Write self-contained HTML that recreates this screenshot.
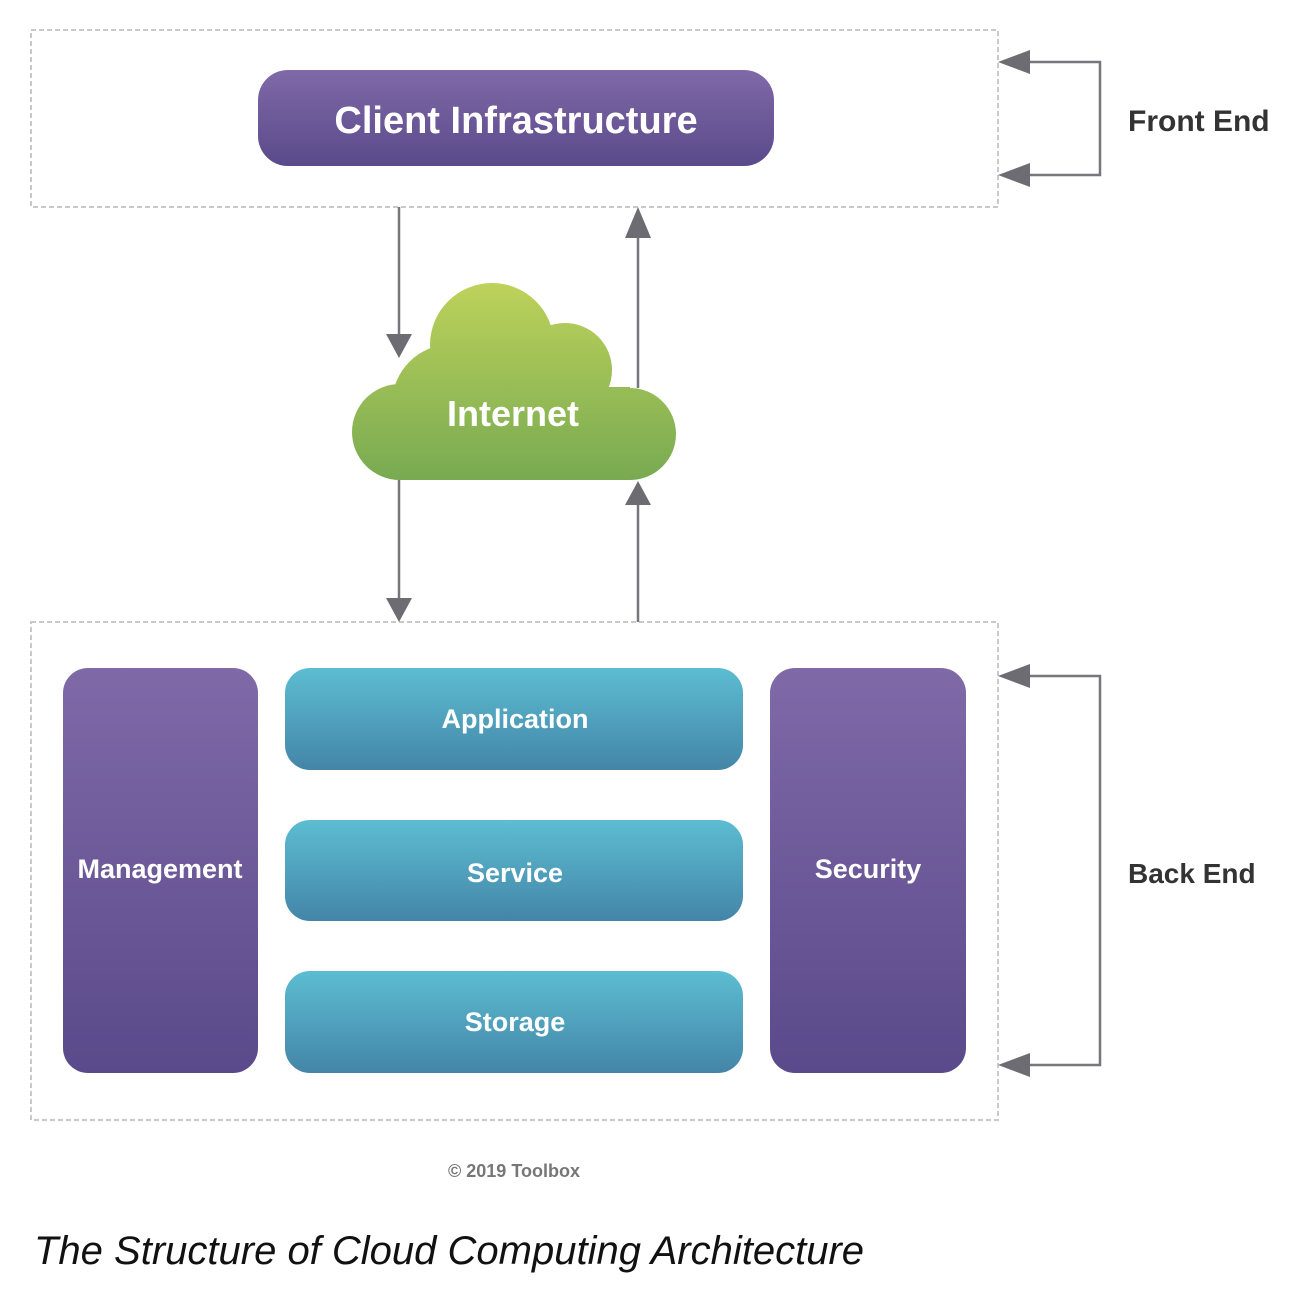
<!DOCTYPE html>
<html><head><meta charset="utf-8"><style>
html,body{margin:0;padding:0;background:#fff;}
svg{display:block;}
text{font-family:"Liberation Sans",sans-serif;font-weight:bold;}
</style></head><body>
<svg width="1308" height="1304" viewBox="0 0 1308 1304" xmlns="http://www.w3.org/2000/svg">
<defs>
<linearGradient id="pu" x1="0" y1="0" x2="0" y2="1"><stop offset="0" stop-color="#8069a7"/><stop offset="1" stop-color="#5a4a8b"/></linearGradient>
<linearGradient id="te" x1="0" y1="0" x2="0" y2="1"><stop offset="0" stop-color="#5cbdd1"/><stop offset="1" stop-color="#4485a8"/></linearGradient>
<linearGradient id="gr" gradientUnits="userSpaceOnUse" x1="0" y1="283" x2="0" y2="480"><stop offset="0" stop-color="#bdd25a"/><stop offset="1" stop-color="#78aa52"/></linearGradient>
</defs>
<rect x="31" y="30" width="967" height="177" fill="none" stroke="#c9c9c9" stroke-width="2" stroke-dasharray="5,3"/>
<rect x="31" y="622" width="967" height="498" fill="none" stroke="#c9c9c9" stroke-width="2" stroke-dasharray="5,3"/>
<rect x="258" y="70" width="516" height="96" rx="30" fill="url(#pu)"/>
<text x="516" y="133" font-size="38" fill="#fff" text-anchor="middle">Client Infrastructure</text>
<g stroke="#76767b" stroke-width="2.5" fill="none">
<line x1="399" y1="207" x2="399" y2="340"/>
<line x1="638" y1="388" x2="638" y2="235"/>
<line x1="399" y1="480" x2="399" y2="600"/>
<line x1="638" y1="622" x2="638" y2="502"/>
<polyline points="1028,62 1100,62 1100,175 1028,175"/>
<polyline points="1028,676 1100,676 1100,1065 1028,1065"/>
</g>
<g fill="#6c6c72">
<polygon points="386,334 412,334 399,358"/>
<polygon points="625,238 651,238 638,207"/>
<polygon points="386,598 412,598 399,622"/>
<polygon points="625,505 651,505 638,481"/>
<polygon points="998,62 1030,50 1030,74"/>
<polygon points="998,175 1030,163 1030,187"/>
<polygon points="998,676 1030,664 1030,688"/>
<polygon points="998,1065 1030,1053 1030,1077"/>
</g>
<g fill="url(#gr)">
<circle cx="400" cy="432" r="48"/>
<circle cx="452" cy="404" r="60"/>
<circle cx="492" cy="345" r="62"/>
<circle cx="565" cy="370" r="47"/>
<circle cx="630" cy="434" r="46"/>
<rect x="400" y="387" width="230" height="93"/>
</g>
<text x="513" y="426" font-size="36" fill="#fff" text-anchor="middle">Internet</text>
<rect x="63" y="668" width="195" height="405" rx="25" fill="url(#pu)"/>
<rect x="770" y="668" width="196" height="405" rx="25" fill="url(#pu)"/>
<rect x="285" y="668" width="458" height="102" rx="25" fill="url(#te)"/>
<rect x="285" y="820" width="458" height="101" rx="25" fill="url(#te)"/>
<rect x="285" y="971" width="458" height="102" rx="25" fill="url(#te)"/>
<g fill="#fff" font-size="27" text-anchor="middle">
<text x="160" y="878">Management</text>
<text x="868" y="878">Security</text>
<text x="515" y="728">Application</text>
<text x="515" y="882">Service</text>
<text x="515" y="1031">Storage</text>
</g>
<text x="1128" y="131" font-size="30" fill="#333">Front End</text>
<text x="1128" y="883" font-size="28" fill="#333">Back End</text>
<text x="514" y="1177" font-size="18" fill="#777" text-anchor="middle">© 2019 Toolbox</text>
<text x="34" y="1264" font-size="40" font-style="italic" style="font-weight:normal" fill="#111">The Structure of Cloud Computing Architecture</text>
</svg>
</body></html>
